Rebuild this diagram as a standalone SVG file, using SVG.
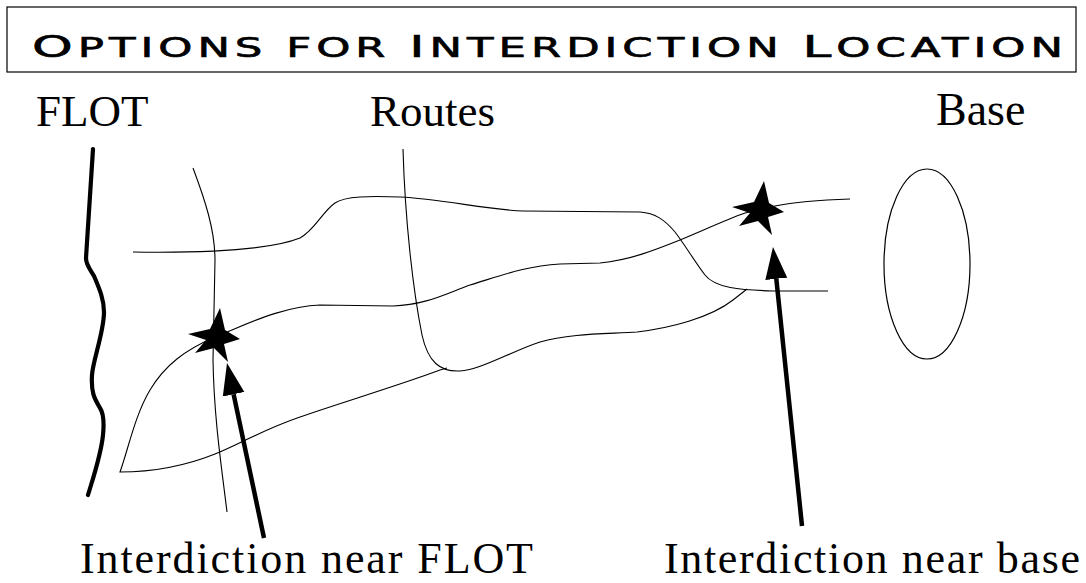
<svg xmlns="http://www.w3.org/2000/svg" width="1086" height="583" viewBox="0 0 1086 583">
<style>
.route{fill:none;stroke:#000;stroke-width:1.1}
.flot{fill:none;stroke:#000;stroke-width:4.2;stroke-linecap:round;stroke-linejoin:round}
.arrow{stroke:#000;stroke-width:4.5;fill:none}
.lbl{font-family:"Liberation Serif","Times New Roman",serif;fill:#000}
.ttl{font-family:"DejaVu Sans",sans-serif;fill:#000;stroke:#000;stroke-width:0.6;font-size:26px;letter-spacing:3px}
.big{font-size:31px}
</style>
<defs>
<marker id="ah" markerUnits="userSpaceOnUse" markerWidth="34" markerHeight="26" viewBox="0 -12 34 24" refX="0" refY="0" orient="auto">
<path d="M0,-11 L32,0 L0,11 Z" fill="#000"/>
</marker>
<polygon id="star" points="4,-29 9,-7 24,2 8,7 12,25 -2,11 -21,16 -10,3 -28,-3 -6,-8" fill="#000"/>
</defs>
<rect width="1086" height="583" fill="#fff"/>
<g id="title">
<rect x="7" y="7" width="1069" height="65" fill="none" stroke="#000" stroke-width="1.2"/>
<text class="ttl" x="32" y="57" textLength="1036" lengthAdjust="spacingAndGlyphs"><tspan class="big">O</tspan>PTIONS FOR <tspan class="big">I</tspan>NTERDICTION <tspan class="big">L</tspan>OCATION</text>
</g>
<g id="headers">
<text class="lbl" x="36" y="126" font-size="45">FLOT</text>
<text class="lbl" x="370" y="126" font-size="45">Routes</text>
<text class="lbl" x="936" y="125" font-size="46">Base</text>
</g>
<g id="flot">
<path class="flot" d="M93,149 L86,258 C86,265 90,269 94,276 C100,290 104,300 104,312 C104,332 93,360 92,375 C91,392 94,398 100,408 C104,414 104,425 103,435 C101,455 94,475 88,495"/>
</g>
<g id="routes">
<path class="route" d="M193,168 C205,200 215,230 215,260 L213,360 C214,420 222,470 227,512"/>
<path class="route" d="M403,149 C405,220 413,290 422,335 C428,362 440,372 460,371 C480,370 510,352 540,342 C570,333 610,334 637,332 C670,328 710,318 733,300 L747,289"/>
<path class="route" d="M133,252 C200,253 270,250 300,238 C315,230 322,212 335,203 C345,196 370,196 400,197 C440,199 490,210 523,211 L640,212 C655,213 665,220 675,232 C685,245 695,262 705,275 C715,288 740,290 773,291 L828,291"/>
<path class="route" d="M850,199 C820,200 790,203 775,206 L745,213 C725,220 700,232 680,240 C655,250 630,260 600,263 L560,264 C525,266 500,276 470,285 C445,294 425,305 393,306 L320,305 C290,306 260,318 232,330 L215,337 C185,350 165,365 150,390 C135,415 128,450 120,472 C150,472 185,466 215,454 C240,444 262,430 300,417 C340,403 400,385 440,370 L447,368"/>
</g>
<g id="base">
<ellipse cx="927" cy="264" rx="43" ry="95" fill="none" stroke="#000" stroke-width="1.2"/>
</g>
<g id="star-flot"><use href="#star" x="216" y="337"/></g>
<g id="star-base"><use href="#star" x="760" y="210"/></g>
<g id="connectors">
<line class="arrow" x1="264" y1="538" x2="233.6" y2="394.3" marker-end="url(#ah)"/>
<line class="arrow" x1="802" y1="526" x2="776.3" y2="278.8" marker-end="url(#ah)"/>
</g>
<g id="labels">
<text class="lbl" x="80" y="573" font-size="44" textLength="453" lengthAdjust="spacing">Interdiction near FLOT</text>
<text class="lbl" x="664" y="573" font-size="44" textLength="416" lengthAdjust="spacing">Interdiction near base</text>
</g>
</svg>
